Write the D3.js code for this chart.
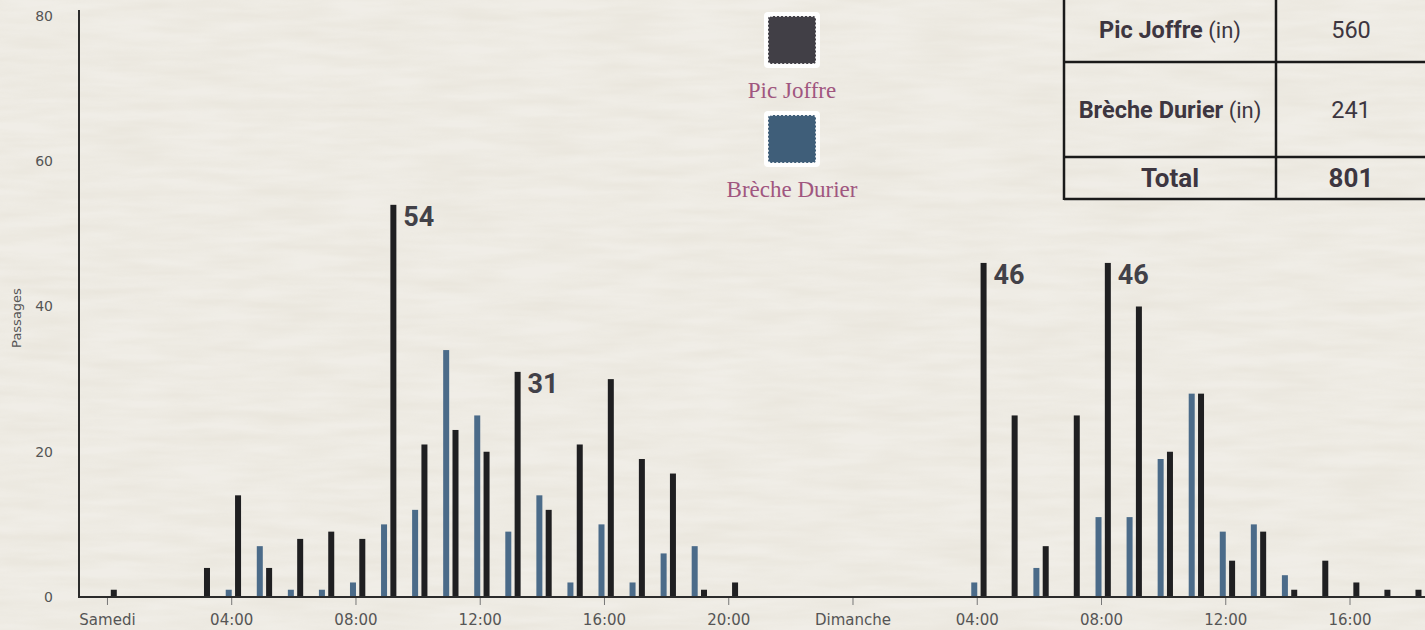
<html>
  <head>
    <meta charset="UTF-8">
    <script src="https://unpkg.com/d3@7/dist/d3.min.js"></script>
    <title>Passages</title>
    <style>
      body { margin: 0; background: #ebe7de; overflow: hidden; }
    </style>
  </head>
  <body>
  <script type="text/javascript">

    // hours since Saturday 00:00, one value per hour
    var hours = d3.range(0, 43);
    var picJoffre = [1, 0, 0, 4, 14, 4, 8, 9, 8, 54, 21, 23, 20, 31, 12, 21, 30, 19, 17, 1, 2, 0, 0, 0,
                     0, 0, 0, 0, 46, 25, 7, 25, 46, 40, 20, 28, 5, 9, 1, 5, 2, 1, 1];
    var brecheDurier = [0, 0, 0, 0, 1, 7, 1, 1, 2, 10, 12, 34, 25, 9, 14, 2, 10, 2, 6, 7, 0, 0, 0, 0,
                        0, 0, 0, 0, 2, 0, 4, 0, 11, 11, 19, 28, 9, 10, 3, 0, 0, 0, 0];

    var tickHours = [0, 4, 8, 12, 16, 20, 24, 28, 32, 36, 40];
    var tickLabels = ["Samedi", "04:00", "08:00", "12:00", "16:00", "20:00",
                      "Dimanche", "04:00", "08:00", "12:00", "16:00"];
    var yTicks = [0, 20, 40, 60, 80];

    var annotHours = [9, 13, 28, 32];

    var legendNames = ["Pic Joffre", "Brèche Durier"];
    var tableRows = ["Pic Joffre", "Brèche Durier"];
    var tableValues = [560, 241];
    var tableTotal = 801;

    var width = 1425;
    var height = 630;

    var svg = d3.select('body')
                .append('svg')
                .attr('width', width)
                .attr('height', height);

    // paper texture
    var defs = svg.append('defs');
    var f = defs.append('filter').attr('id', 'paper').attr('x', 0).attr('y', 0)
                .attr('width', '100%').attr('height', '100%');
    f.append('feTurbulence').attr('type', 'fractalNoise')
     .attr('baseFrequency', '0.012 0.09').attr('numOctaves', 3).attr('seed', 4);
    f.append('feColorMatrix').attr('type', 'matrix')
     .attr('values', '0 0 0 0 1  0 0 0 0 1  0 0 0 0 1  0 0 0 -1.2 1.3');

    svg.append('rect').attr('width', width).attr('height', height).attr('fill', '#e8e4da');
    svg.append('rect').attr('width', width).attr('height', height)
       .attr('filter', 'url(#paper)').attr('opacity', 0.35);

    var x = d3.scaleLinear().domain([-0.9, 42.43]).range([79, 1425]);
    var y = d3.scaleLinear().domain([0, 80]).range([597, 16]);

    var axisFont = '"DejaVu Sans", sans-serif';

    // y axis labels
    var yAxis = d3.axisLeft(y).tickValues(yTicks).tickSize(0).tickPadding(26);
    var gy = svg.append('g').attr('transform', 'translate(79,0)').call(yAxis);
    gy.select('.domain').remove();
    gy.selectAll('text')
      .style('font-family', axisFont)
      .style('font-size', '14px')
      .style('fill', '#555');

    svg.append('text')
       .attr('transform', 'translate(21,318) rotate(-90)')
       .attr('text-anchor', 'middle')
       .style('font-family', axisFont)
       .style('font-size', '13px')
       .style('fill', '#555')
       .text('Passages');

    // x axis
    var xAxis = d3.axisBottom(x).tickValues(tickHours)
                  .tickFormat(function(d, i){ return tickLabels[i]; })
                  .tickSize(8).tickPadding(9);
    var gx = svg.append('g').attr('transform', 'translate(0,597)').call(xAxis);
    gx.select('.domain').remove();
    gx.selectAll('line').style('stroke', '#777');
    gx.selectAll('text')
      .style('font-family', axisFont)
      .style('font-size', '15px')
      .style('fill', '#555');

    // bars
    var barW = 6;
    svg.selectAll('rect.durier')
        .data(hours.filter(function(h){ return brecheDurier[h] > 0; }))
        .enter()
        .append('rect')
        .attr('class', 'durier')
        .attr('x', function(h){ return x(h - 0.08) - barW / 2; })
        .attr('y', function(h){ return y(brecheDurier[h]); })
        .attr('width', barW)
        .attr('height', function(h){ return y(0) - y(brecheDurier[h]); })
        .style('fill', '#4b6b89');

    svg.selectAll('rect.joffre')
        .data(hours.filter(function(h){ return picJoffre[h] > 0; }))
        .enter()
        .append('rect')
        .attr('class', 'joffre')
        .attr('x', function(h){ return x(h + 0.22) - barW / 2; })
        .attr('y', function(h){ return y(picJoffre[h]); })
        .attr('width', barW)
        .attr('height', function(h){ return y(0) - y(picJoffre[h]); })
        .style('fill', '#1f1f21');

    // axis lines
    svg.append('line').attr('x1', 79).attr('x2', 79).attr('y1', 10).attr('y2', 598)
       .style('stroke', '#2b2b2b').style('stroke-width', 2);
    svg.append('line').attr('x1', 78).attr('x2', width).attr('y1', 597).attr('y2', 597)
       .style('stroke', '#2b2b2b').style('stroke-width', 2);

    // peak labels
    svg.selectAll('text.peak')
        .data(annotHours)
        .enter()
        .append('text')
        .attr('class', 'peak')
        .attr('x', function(h){ return x(h + 0.22) + 10; })
        .attr('y', function(h){ return y(picJoffre[h]) + 21; })
        .style('font-family', 'Roboto, sans-serif')
        .style('font-weight', 'bold')
        .style('font-size', '27px')
        .style('fill', '#424148')
        .text(function(h){ return picJoffre[h]; });

    // legend
    var legendColors = ['#413f46', '#3f5e79'];
    var leg = svg.selectAll('g.legend')
        .data(legendNames)
        .enter()
        .append('g')
        .attr('class', 'legend')
        .attr('transform', function(d, i){ return 'translate(792,' + (40 + i * 99) + ')'; });
    leg.append('rect')
       .attr('x', -28).attr('y', -28).attr('width', 56).attr('height', 56).attr('rx', 4)
       .style('fill', '#fff');
    leg.append('rect')
       .attr('x', -24).attr('y', -24).attr('width', 48).attr('height', 48).attr('rx', 3)
       .style('fill', function(d, i){ return legendColors[i]; })
       .style('stroke', '#fff').style('stroke-width', 1.5).style('stroke-dasharray', '2,2');
    leg.append('text')
       .attr('y', 58)
       .attr('text-anchor', 'middle')
       .style('font-family', '"Liberation Serif", "DejaVu Serif", serif')
       .style('font-size', '23px')
       .style('fill', '#a0567f')
       .text(function(d){ return d; });

    // table
    var tx0 = 1064, tx1 = 1276, tx2 = 1428;
    var rowY = [-2, 62, 157, 199];
    var tbl = svg.append('g');
    var lineStyle = function(sel){ return sel.style('stroke', '#1a1a1a').style('stroke-width', 2.5); };
    lineStyle(tbl.append('line').attr('x1', tx0).attr('x2', tx0).attr('y1', rowY[0]).attr('y2', rowY[3] + 1));
    lineStyle(tbl.append('line').attr('x1', tx1).attr('x2', tx1).attr('y1', rowY[0]).attr('y2', rowY[3] + 1));
    [1, 2, 3].forEach(function(r){
      lineStyle(tbl.append('line').attr('x1', tx0).attr('x2', tx2).attr('y1', rowY[r]).attr('y2', rowY[r]));
    });

    var textStyle = function(sel){
      return sel.style('font-family', 'Roboto, sans-serif').style('font-size', '23.5px').style('fill', '#3d3640');
    };
    tableRows.forEach(function(name, i){
      var cy = (rowY[i] + rowY[i + 1]) / 2 + 8;
      var t = textStyle(tbl.append('text').attr('x', (tx0 + tx1) / 2).attr('y', cy).attr('text-anchor', 'middle'));
      t.append('tspan').style('font-weight', 'bold').text(name);
      t.append('tspan').style('font-size', '22px').text(' (in)');
      textStyle(tbl.append('text').attr('x', (tx1 + 1426) / 2).attr('y', cy).attr('text-anchor', 'middle'))
        .text(tableValues[i]);
    });
    var ty = (rowY[2] + rowY[3]) / 2 + 9;
    textStyle(tbl.append('text').attr('x', (tx0 + tx1) / 2).attr('y', ty).attr('text-anchor', 'middle'))
      .style('font-weight', 'bold').style('font-size', '26px').text('Total');
    textStyle(tbl.append('text').attr('x', (tx1 + 1426) / 2).attr('y', ty).attr('text-anchor', 'middle'))
      .style('font-weight', 'bold').style('font-size', '26px').text(tableTotal);

  </script>
  </body>
</html>
